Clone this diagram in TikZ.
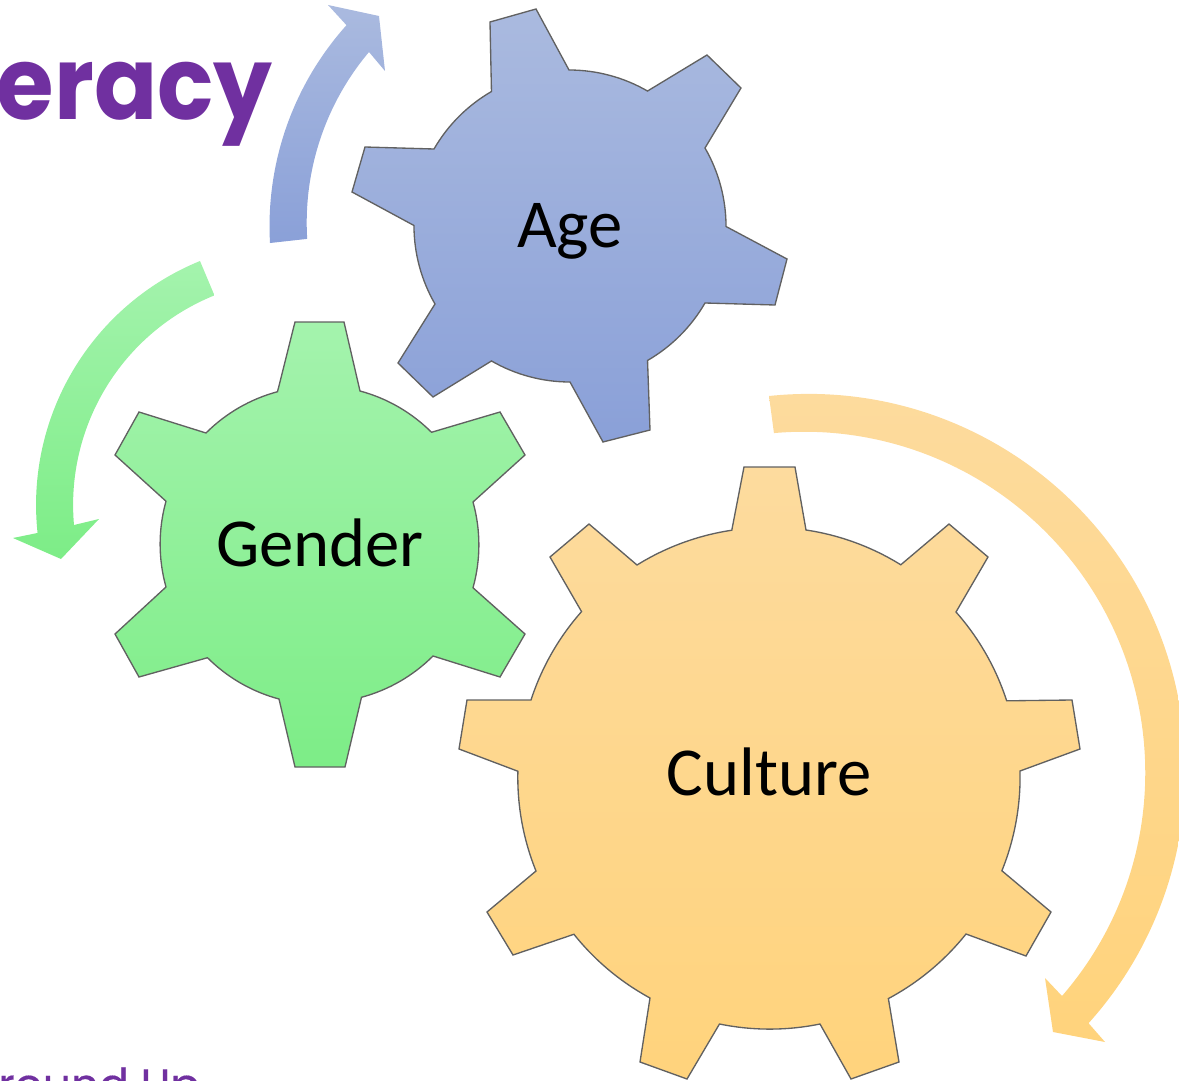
\documentclass[tikz,border=0pt]{standalone}
\usepackage{fontspec}
\setmainfont{Carlito}
\newfontfamily\popfont[FakeStretch=0.92]{Poppins}
\newfontfamily\subfont[FakeBold=0.35]{Poppins}
\definecolor{ageT}{HTML}{AABADF}\definecolor{ageB}{HTML}{8AA0D8}
\definecolor{genT}{HTML}{A4F3AD}\definecolor{genB}{HTML}{7DED87}
\definecolor{culT}{HTML}{FDDB9E}\definecolor{culB}{HTML}{FFD37C}
\definecolor{brand}{HTML}{7030A0}
\tikzset{
 gear/.style={draw=black!62,line width=1pt,line join=miter},
 ageFill/.style={top color=ageT,bottom color=ageB},
 genFill/.style={top color=genT,bottom color=genB},
 culFill/.style={top color=culT,bottom color=culB},
 gearlabel/.style={font=\fontsize{51.5}{60}\selectfont,inner sep=0pt,text=black,anchor=base},
 brandtext/.style={text=brand,inner sep=0pt}
}
\begin{document}
\begin{tikzpicture}[x=0.75pt,y=0.75pt]
\path[use as bounding box,clip] (0,0) rectangle (1179,-1081);
% arrows
\path[ageFill] (270,-243) arc[start angle=183.2,end angle=138.1,radius=301] -- (328,-5) -- (379,-16) -- (385,-71) -- (369,-52) arc[start angle=139.9,end angle=183.5,radius=265] -- cycle;
\path[genFill] (200,-261) arc[start angle=112.2,end angle=186.1,radius=263.5] -- (13,-538) -- (61,-559) -- (99,-519) -- (74,-525) arc[start angle=185.1,end angle=112,radius=226] -- cycle;
\path[culFill] (769,-396) arc[start angle=96,end angle=-42,radius=377] -- (1105,-1042) -- (1053,-1032) -- (1045,-978) -- (1062,-996) arc[start angle=-40.9,end angle=95.1,radius=341] -- cycle;
% Age gear
\path[gear,ageFill] (490,-22) -- (536,-9) -- (569,-70) arc[start angle=90,end angle=60,radius=157]
 -- (707,-55) -- (741,-88) -- (705,-148) arc[start angle=30,end angle=0,radius=157]
 -- (787,-259) -- (775,-305) -- (705,-303) arc[start angle=-30,end angle=-60,radius=157]
 -- (650,-430) -- (603,-442) -- (570,-382) arc[start angle=-90,end angle=-120,radius=157]
 -- (433,-397) -- (398,-363) -- (435,-304) arc[start angle=-150,end angle=-180,radius=157]
 -- (352,-192) -- (365,-147) -- (434,-149) arc[start angle=150,end angle=120,radius=157] -- cycle;
\node[gearlabel] (age) at (570,-247) {Age};
% Gender gear
\path[gear,genFill] (295,-322) -- (344,-322) -- (360,-391) arc[start angle=75,end angle=45,radius=159.5]
 -- (500,-412) -- (525,-455) -- (473,-502) arc[start angle=15.6,end angle=-15.6,radius=159.5]
 -- (525,-634) -- (500,-677) -- (433,-656) arc[start angle=-45,end angle=-75,radius=159.5]
 -- (345,-767) -- (295,-767) -- (279,-699) arc[start angle=-105,end angle=-135,radius=159.5]
 -- (139,-677) -- (115,-634) -- (166,-587) arc[start angle=-164.4,end angle=-195.6,radius=159.5]
 -- (115,-455) -- (139,-412) -- (206,-433) arc[start angle=135,end angle=105,radius=159.5] -- cycle;
\node[gearlabel] (gender) at (320,-566) {Gender};
% Culture gear
\path[gear,culFill] (744,-467) -- (795,-467) -- (806,-530) arc[start angle=81.5,end angle=58.2,radius=250]
 -- (949,-524) -- (988,-557) -- (956,-612) arc[start angle=41.5,end angle=17.9,radius=250]
 -- (1072,-700) -- (1080,-749) -- (1020,-771) arc[start angle=1.4,end angle=-22,radius=250]
 -- (1051,-912) -- (1026,-956) -- (966,-934) arc[start angle=-38.6,end angle=-61.9,radius=250]
 -- (899,-1062) -- (851,-1079) -- (820,-1024) arc[start angle=-78.4,end angle=-101.6,radius=250]
 -- (687,-1079) -- (640,-1062) -- (650,-998) arc[start angle=-118.5,end angle=-141.4,radius=250]
 -- (513,-955) -- (487,-912) -- (536,-871) arc[start angle=-158,end angle=-181.4,radius=250]
 -- (459,-749) -- (467,-700) -- (531,-700) arc[start angle=162,end angle=138.5,radius=250]
 -- (550,-557) -- (589,-524) -- (637,-565) arc[start angle=121.8,end angle=98.5,radius=250] -- cycle;
\node[gearlabel] (culture) at (769,-795) {Culture};
% cropped titles
\node[brandtext,anchor=base east,font=\popfont\bfseries\fontsize{76}{80}\selectfont] (title) at (273,-120) {eracy};
\node[brandtext,anchor=base west,font=\subfont\fontsize{33}{38}\selectfont] (sub) at (-2,-1100) {round Up};
\end{tikzpicture}
\end{document}
